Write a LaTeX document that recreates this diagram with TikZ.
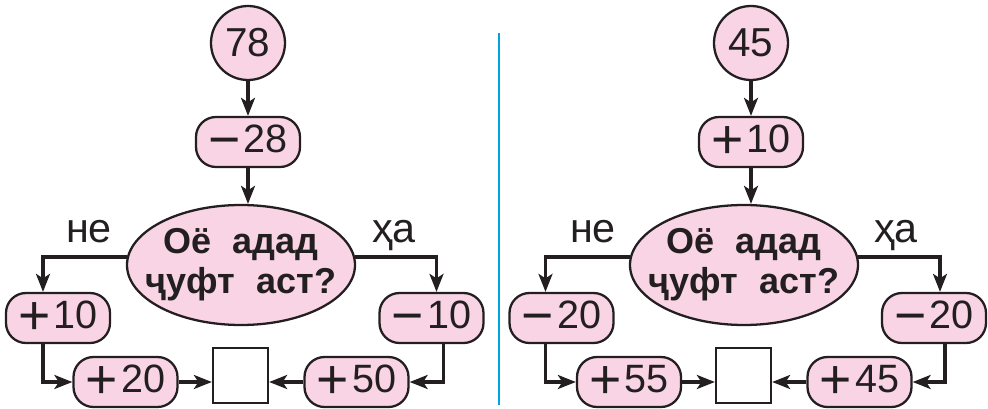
\documentclass[tikz,border=0pt]{standalone}
\usepackage{fontspec}
\setmainfont{Liberation Sans}
\usetikzlibrary{positioning,shapes.geometric,arrows.meta}

\definecolor{rosa}{HTML}{F9D4E5}
\definecolor{inchiostro}{HTML}{231F20}
\definecolor{azzurro}{HTML}{00A3E0}

% segni piu e meno allargati
\newcommand{\piu}{\raisebox{-0.16em}{\scalebox{1.4}{+}}\hspace{0.08em}}
\newcommand{\meno}{\raisebox{-0.16em}{\scalebox{1.4}{−}}\hspace{0.08em}}

\tikzset{
	num/.style={draw=inchiostro, fill=rosa, text=inchiostro, line width=1.3pt, rounded corners=0.4cm,
		minimum width=2.08cm, minimum height=1cm, inner sep=0pt, font=\fontsize{22.5}{26}\selectfont},
	tondo/.style={circle, draw=inchiostro, fill=rosa, text=inchiostro, line width=1.3pt,
		minimum size=1.48cm, inner sep=0pt, font=\fontsize{23}{26}\selectfont},
	domanda/.style={ellipse, draw=inchiostro, fill=rosa, line width=1.3pt,
		minimum width=4.56cm, minimum height=2.4cm, inner sep=0pt},
	quesito/.style={text=inchiostro, align=center, inner sep=0pt,
		font=\bfseries\fontsize{20.5}{22.7}\selectfont},
	vuoto/.style={draw=inchiostro, fill=white, line width=1.3pt, minimum size=1.1cm, inner sep=0pt},
	scritta/.style={anchor=base, text=inchiostro, font=\fontsize{23.5}{26}\selectfont},
	freccia/.style={draw=inchiostro, line width=1.75pt, -{Stealth[length=3.6mm,width=2.8mm,inset=0.9mm]}}
}

\begin{document}
\begin{tikzpicture}
	
	\useasboundingbox (0,0) rectangle (19.76,8.16);
	
	% Riga di separazione
	\draw[azzurro, line width=1.4pt] (9.98,7.5) -- (9.98,0.06);
	
	% Primo schema
	\node[tondo] (c78) at (4.96, 7.30) {78};
	\node[num] (m28) at (4.96, 5.32) {\meno 28};
	\node[domanda, label={[quesito]center:Оё\hspace{0.6em}адад\\ҷуфт\hspace{0.6em}аст?}] (e1) at (4.82, 2.86) {};
	\node[scritta] (ne1) at (1.78, 3.31) {не};
	\node[scritta] (ha1) at (7.88, 3.31) {ҳа};
	\node[num] (p10) at (1.16, 1.80) {\piu 10};
	\node[num] (m10) at (8.63, 1.80) {\meno 10};
	\node[num] (p20) at (2.51, 0.52) {\piu 20};
	\node[vuoto] (sq1) at (4.81, 0.65) {};
	\node[num] (p50) at (7.13, 0.52) {\piu 50};
	
	\draw[freccia] (c78) -- (m28);
	\draw[freccia] (m28.south) -- (m28.south |- e1.north);
	\draw[freccia] (e1.176) -| ([xshift=-0.3cm]p10.north);
	\draw[freccia] (e1.4) -| ([xshift=0.1cm]m10.north);
	\draw[freccia] ([xshift=-0.3cm]p10.south) |- (p20.west);
	\draw[freccia] ([xshift=0.24cm]m10.south) |- (p50.east);
	\draw[freccia] (p20.east) -- (p20.east -| sq1.west);
	\draw[freccia] (p50.west) -- (p50.west -| sq1.east);
	
	% Secondo schema
	\node[tondo] (c45) at (15.02, 7.30) {45};
	\node[num] (p10b) at (15.02, 5.32) {\piu 10};
	\node[domanda, label={[quesito]center:Оё\hspace{0.6em}адад\\ҷуфт\hspace{0.6em}аст?}] (e2) at (14.88, 2.86) {};
	\node[scritta] (ne2) at (11.86, 3.31) {не};
	\node[scritta] (ha2) at (17.92, 3.31) {ҳа};
	\node[num] (m20a) at (11.23, 1.80) {\meno 20};
	\node[num] (m20b) at (18.68, 1.80) {\meno 20};
	\node[num] (p55) at (12.58, 0.52) {\piu 55};
	\node[vuoto] (sq2) at (14.87, 0.65) {};
	\node[num] (p45) at (17.19, 0.52) {\piu 45};
	
	\draw[freccia] (c45) -- (p10b);
	\draw[freccia] (p10b.south) -- (p10b.south |- e2.north);
	\draw[freccia] (e2.176) -| ([xshift=-0.32cm]m20a.north);
	\draw[freccia] (e2.4) -| ([xshift=0.12cm]m20b.north);
	\draw[freccia] ([xshift=-0.32cm]m20a.south) |- (p55.west);
	\draw[freccia] ([xshift=0.22cm]m20b.south) |- (p45.east);
	\draw[freccia] (p55.east) -- (p55.east -| sq2.west);
	\draw[freccia] (p45.west) -- (p45.west -| sq2.east);
	
\end{tikzpicture}
\end{document}
